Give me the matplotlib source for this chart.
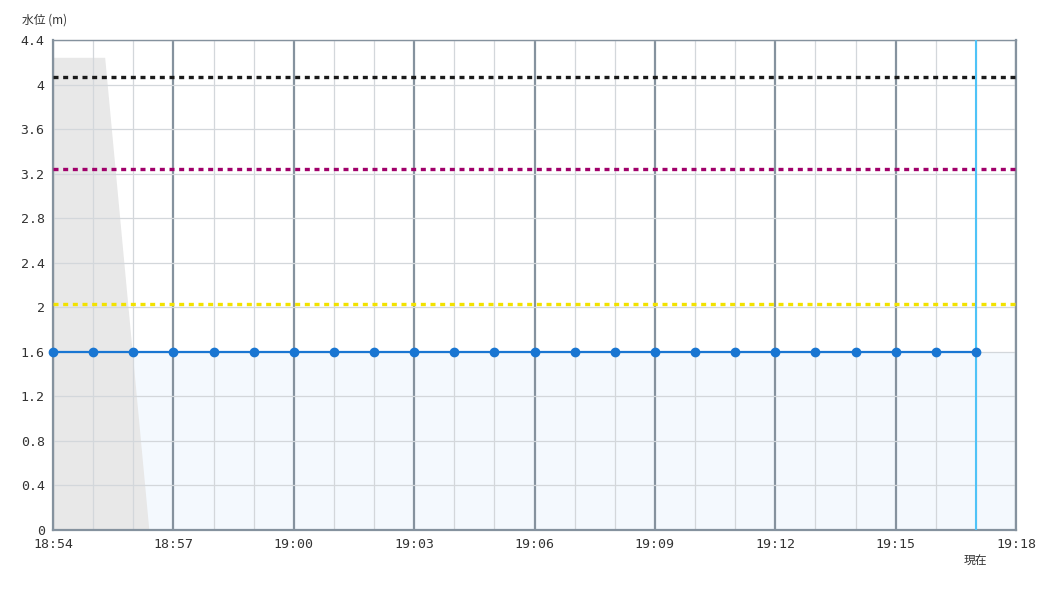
import matplotlib
matplotlib.use("Agg")
import matplotlib.pyplot as plt
import numpy as np

# ---- data ----
times_min = list(range(18 * 60 + 54, 19 * 60 + 18))  # 18:54 .. 19:17, every minute
water_level = [1.6] * len(times_min)
level_black = 4.07
level_magenta = 3.24
level_yellow = 2.03
now_min = 19 * 60 + 17
gray_x = [18 * 60 + 54, 18 * 60 + 55.3, 18 * 60 + 56.4, 18 * 60 + 54]
gray_y = [4.24, 4.24, 0.0, 0.0]
xtick_labels = ["18:54", "18:57", "19:00", "19:03", "19:06", "19:09", "19:12", "19:15", "19:18"]
yticks = [0, 0.4, 0.8, 1.2, 1.6, 2, 2.4, 2.8, 3.2, 3.6, 4, 4.4]
ytick_labels = ["0", "0.4", "0.8", "1.2", "1.6", "2", "2.4", "2.8", "3.2", "3.6", "4", "4.4"]

mono = ["DejaVu Sans Mono"]
cjk = ["Noto Sans CJK JP", "DejaVu Sans"]

fig = plt.figure(figsize=(10.5, 6), dpi=100)
ax = fig.add_axes([53 / 1050, 1 - 530 / 600, (1016 - 53) / 1050, (530 - 40) / 600])

x = np.array(times_min, dtype=float)
y = np.array(water_level)
xmin, xmax = 18 * 60 + 54, 19 * 60 + 18

# fill under water level (extends to right edge of the plot)
fx = np.append(x, xmax)
fy = np.append(y, y[-1])
ax.fill_between(fx, 0, fy, color="#f4f9fe", zorder=1, lw=0)
# gray polygon
ax.fill(gray_x, gray_y, color="#e8e8e8", zorder=1.5, lw=0)

# grid
for m in range(xmin, xmax + 1):
    if (m - xmin) % 3 == 0:
        ax.axvline(m, color="#85929e", lw=1.6, zorder=2)
    else:
        ax.axvline(m, color="#d3d7db", lw=0.9, zorder=2)
for yt in yticks:
    ax.axhline(yt, color="#d3d7db", lw=0.9, zorder=2)

# threshold lines
for lvl, col in [(level_black, "#1a1a1a"), (level_magenta, "#a0006a"), (level_yellow, "#f2e200")]:
    ax.axhline(lvl, color=col, lw=2.4, ls=(0, (1.5, 1.4)), zorder=3)

# now line
ax.axvline(now_min, color="#4fc3f7", lw=1.5, zorder=4)

# water level
ax.plot(x, y, color="#1976d2", lw=1.6, marker="o", ms=6, zorder=5, clip_on=False)

ax.set_xlim(xmin, xmax)
ax.set_ylim(0, 4.4)
ax.set_xticks(list(range(xmin, xmax + 1, 3)))
ax.set_xticklabels(xtick_labels, family=mono, fontsize=9.5, color="#333333")
ax.set_yticks(yticks)
ax.set_yticklabels(ytick_labels, family=mono, fontsize=9.5, color="#333333")
ax.tick_params(length=0, pad=6)

for side in ["left", "bottom", "right", "top"]:
    ax.spines[side].set_color("#85929e")
ax.spines["left"].set_linewidth(1.6)
ax.spines["bottom"].set_linewidth(1.6)
ax.spines["right"].set_linewidth(1.6)
ax.spines["top"].set_linewidth(1.0)

fig.text(22 / 1050, 1 - 20 / 600, "水位 (m)", family=cjk, fontsize=8.5, color="#333333", va="center", ha="left")
ax.text(now_min, -0.27, "現在", family=cjk, fontsize=8.5, color="#333333", ha="center", va="center",
        transform=ax.transData, clip_on=False)

fig.savefig("out.png", dpi=100)
